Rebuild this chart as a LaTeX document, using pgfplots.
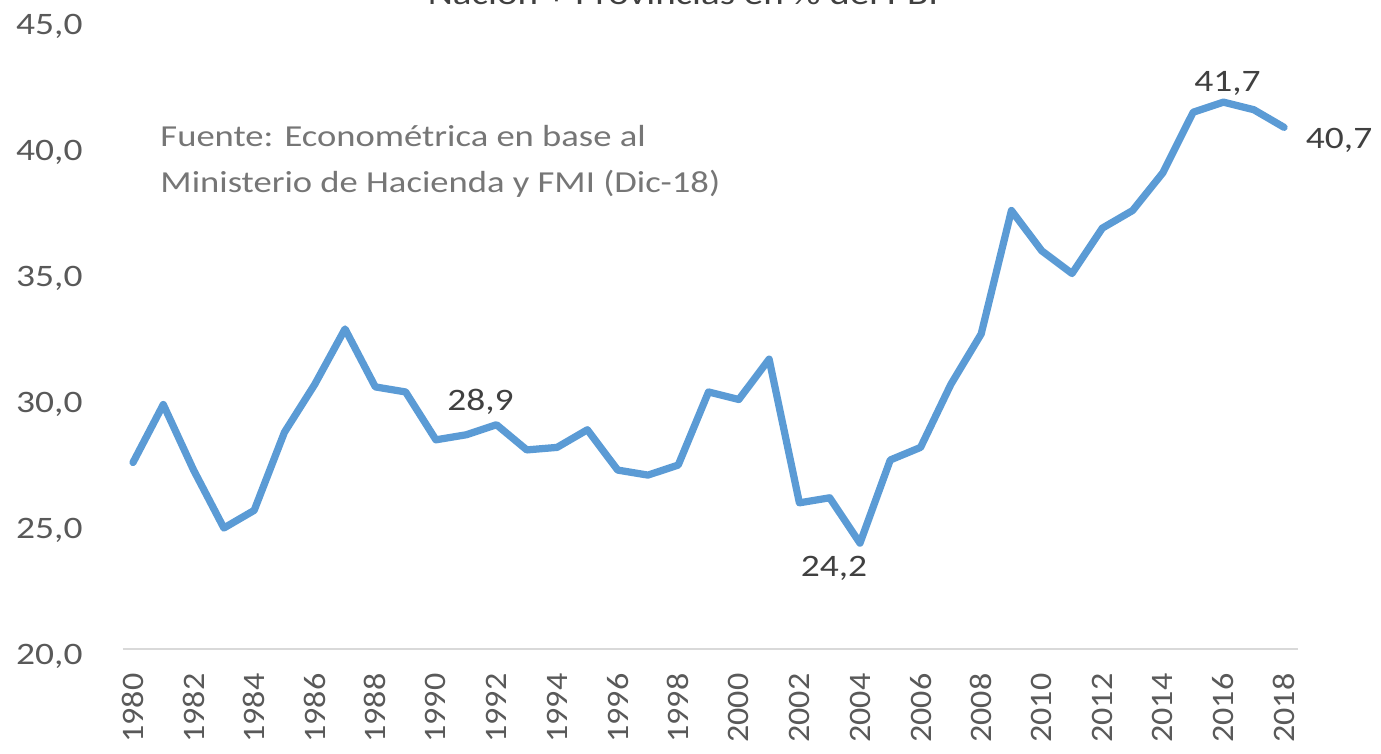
\documentclass[border=0pt]{standalone}
\usepackage{fontspec}
\setmainfont{Carlito}[FakeStretch=1.2]
\newfontfamily\xfont{Carlito}[FakeStretch=1.09]
\usepackage{pgfplots}
\pgfplotsset{compat=1.18}
\definecolor{serie}{HTML}{5B9BD5}
\definecolor{tickgray}{HTML}{595959}
\definecolor{lblgray}{HTML}{404040}
\definecolor{srcgray}{HTML}{767676}
\definecolor{axgray}{HTML}{D9D9D9}
\tikzset{lbl/.style={font=\fontsize{12.5}{15}\selectfont, text=lblgray, inner sep=0pt, anchor=center}}
\begin{document}
\begin{tikzpicture}
  \begin{axis}[
      at={(0,0)}, anchor=south west,
      scale only axis, width=470pt, height=252pt,
      xmin=1979.67, xmax=2018.46, ymin=20, ymax=45,
      xtick={1980,1982,...,2018},
      ytick={20,25,...,45},
      axis lines*=left,
      x axis line style={draw=axgray, line width=0.8pt},
      y axis line style={draw=none},
      tick style={draw=none},
      /pgf/number format/assume math mode=true,
      xticklabel style={rotate=90, anchor=east, inner sep=0pt,
        font=\xfont\fontsize{12.5}{15}\selectfont, text=tickgray,
        /pgf/number format/1000 sep={}},
      yticklabel style={anchor=east, inner sep=0pt, yshift=-3pt,
        font=\fontsize{12.5}{15}\selectfont, text=tickgray,
        /pgf/number format/.cd, fixed, fixed zerofill, precision=1, use comma},
      xticklabel shift=9.6pt,
      yticklabel shift=16pt,
      clip=false,
    ]
    \addplot[serie, line width=2.9pt, line join=round, line cap=round]
      coordinates {
        (1980,27.4) (1981,29.7) (1982,27.1) (1983,24.8) (1984,25.5)
        (1985,28.6) (1986,30.5) (1987,32.7) (1988,30.4) (1989,30.2)
        (1990,28.3) (1991,28.5) (1992,28.9) (1993,27.9) (1994,28.0)
        (1995,28.7) (1996,27.1) (1997,26.9) (1998,27.3) (1999,30.2)
        (2000,29.9) (2001,31.5) (2002,25.8) (2003,26.0) (2004,24.2)
        (2005,27.5) (2006,28.0) (2007,30.5) (2008,32.5) (2009,37.4)
        (2010,35.8) (2011,34.9) (2012,36.7) (2013,37.4) (2014,38.9)
        (2015,41.3) (2016,41.7) (2017,41.4) (2018,40.7)
      };
    \node[lbl, xshift=-6.4pt, yshift=9.1pt] at (axis cs:1992,28.9) {28,9};
    \node[lbl, xshift=-10.4pt, yshift=-10pt] at (axis cs:2004,24.2) {24,2};
    \node[lbl, xshift=1.6pt, yshift=7.6pt] at (axis cs:2016,41.7) {41,7};
    \node[lbl, xshift=22pt, yshift=-5.2pt] at (axis cs:2018,40.7) {40,7};
  \end{axis}
  \node[anchor=base west, align=left, text=srcgray, inner sep=0pt,
        font=\fontsize{12.2}{18.4}\selectfont] at (14.8pt,182.4pt)
        {Fuente: Econométrica en base al\\Ministerio de Hacienda y FMI (Dic-18)};
  \pgfresetboundingbox
  \path[use as bounding box] (-49.2pt,-42pt) rectangle (503.2pt,259.6pt);
  \node[anchor=base, inner sep=0pt, text=lblgray, font=\fontsize{13}{15}\selectfont]
        at (224pt,257.6pt) {Nación + Provincias en \% del PBI};
\end{tikzpicture}
\end{document}
